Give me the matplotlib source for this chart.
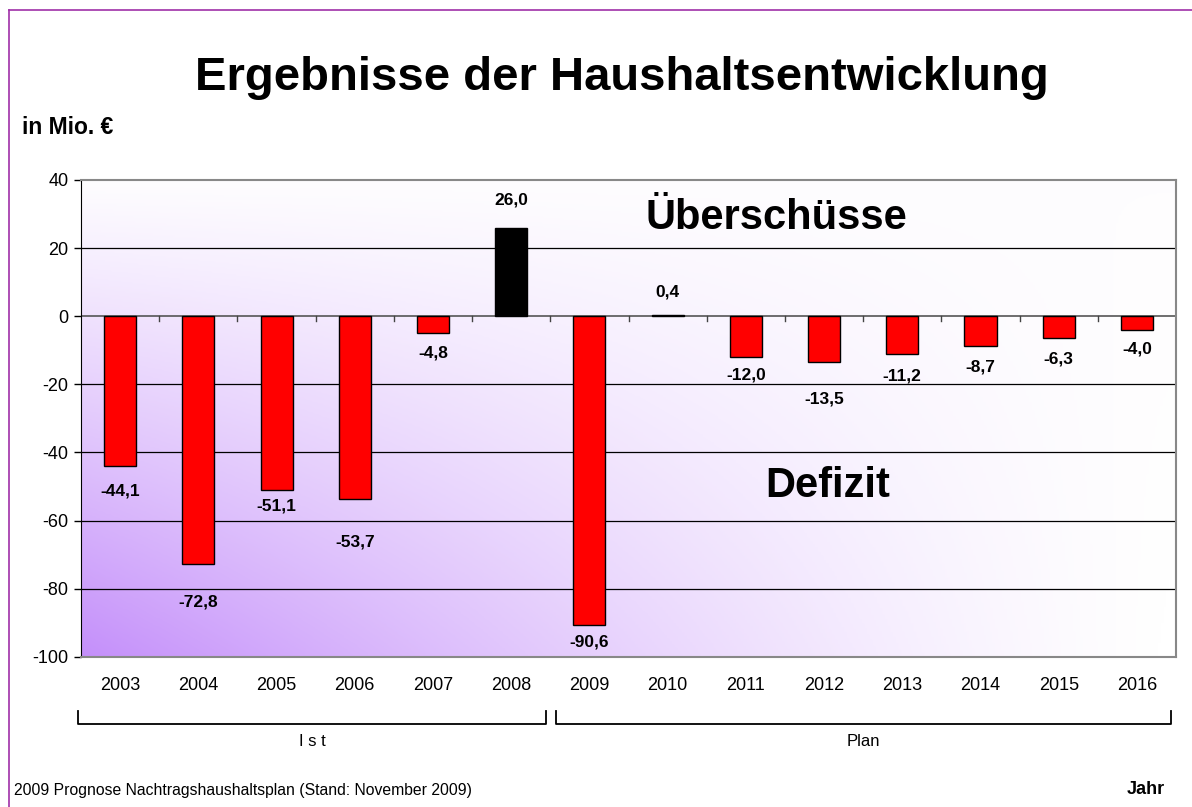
import matplotlib
matplotlib.use('Agg')
import matplotlib.pyplot as plt
import matplotlib.transforms as mtransforms
from matplotlib.colors import LinearSegmentedColormap
import numpy as np

plt.rcParams['font.family'] = ['Liberation Sans', 'DejaVu Sans']

years = ['2003', '2004', '2005', '2006', '2007', '2008', '2009',
         '2010', '2011', '2012', '2013', '2014', '2015', '2016']
values = [-44.1, -72.8, -51.1, -53.7, -4.8, 26.0, -90.6,
          0.4, -12.0, -13.5, -11.2, -8.7, -6.3, -4.0]
labels = ['-44,1', '-72,8', '-51,1', '-53,7', '-4,8', '26,0', '-90,6',
          '0,4', '-12,0', '-13,5', '-11,2', '-8,7', '-6,3', '-4,0']
groups = [('Ist', 0, 5), ('Plan', 6, 13)]

# distance of each value label from the bar end, in pixels (positive = below)
label_shift = [25, 38, 16, 43, 20, -28, 17, -23, 18, 37, 22, 21, 21, 19]
bar_colors = ['black' if v > 0 else 'red' for v in values]

fig = plt.figure(figsize=(11.92, 8.07), dpi=100)
fig.patch.set_facecolor('white')
ax = fig.add_axes([0.068, 0.186, 0.9186, 0.591])

# background gradient: purple in the lower left, fading to white up and right
u, v = np.meshgrid(np.linspace(0, 1, 400), np.linspace(0, 1, 300))
strength = np.clip((1 - v) ** 1.1 * (1 - u) ** 1.35 + 0.02 * v, 0, 1)
cmap = LinearSegmentedColormap.from_list('bg', ['#ffffff', '#c48ffa'])
ax.imshow(strength, cmap=cmap, vmin=0, vmax=1, origin='lower', extent=[0, 1, 0, 1],
          transform=ax.transAxes, aspect='auto', zorder=0, interpolation='bilinear')

x = np.arange(len(years))
ax.set_xlim(-0.5, len(years) - 0.5)
ax.set_ylim(-100, 40)

for yv in [20, -20, -40, -60, -80]:
    ax.axhline(yv, color='black', lw=0.9, zorder=1)
ax.axhline(0, color='#555555', lw=1.2, zorder=1)

ax.bar(x, values, width=0.41, color=bar_colors, edgecolor='black', lw=1.0, zorder=3)

for i in range(len(years)):
    ax.annotate(labels[i], (x[i], values[i]), xytext=(0, -label_shift[i] * 0.72),
                textcoords='offset points', ha='center', va='center',
                fontsize=12.5, fontweight='bold', zorder=4)

# category separator ticks on the zero line
for b in np.arange(0.5, len(years) - 0.5, 1.0):
    ax.plot([b, b], [0, -1.5], color='#444444', lw=1, zorder=2)

ax.set_yticks(np.arange(-100, 41, 20))
ax.set_yticklabels([str(t) for t in range(-100, 41, 20)], fontsize=13)
ax.tick_params(axis='y', length=5, width=1, color='black', pad=4)
ax.set_xticks([])

for i, yr in enumerate(years):
    ax.text(x[i], -0.06, yr, transform=ax.get_xaxis_transform(),
            ha='center', va='center', fontsize=13)

ax.spines['left'].set_color('black')
for s in ['top', 'right', 'bottom']:
    ax.spines[s].set_color('#888888')
    ax.spines[s].set_linewidth(1.5)

fig.text(645 / 1192, 1 - 218 / 807, 'Überschüsse', ha='left', va='center',
         fontsize=30, fontweight='bold')
fig.text(765 / 1192, 1 - 486 / 807, 'Defizit', ha='left', va='center',
         fontsize=30, fontweight='bold')

# group brackets below the year labels
blend = mtransforms.blended_transform_factory(ax.transData, fig.transFigure)
y_top = 1 - 711 / 807
y_bot = 1 - 724 / 807
for name, a, b in groups:
    x0 = a - 0.54 if a == 0 else a - 0.43
    x1 = b + 0.45 if b < len(years) - 1 else b + 0.43
    ax.plot([x0, x0, x1, x1], [y_top, y_bot, y_bot, y_top], color='black',
            lw=1.3, transform=blend, clip_on=False)
    ax.text((x0 + x1) / 2, 1 - 741 / 807, ' '.join(name) if name == 'Ist' else name,
            transform=blend, ha='center', va='center', fontsize=12)

fig.text(622 / 1192, 1 - 78 / 807, 'Ergebnisse der Haushaltsentwicklung', ha='center',
         va='center', fontsize=34, fontweight='bold')
fig.text(22 / 1192, 1 - 127 / 807, 'in Mio. €', ha='left', va='center',
         fontsize=16.5, fontweight='bold')
fig.text(14 / 1192, 1 - 790 / 807,
         '2009 Prognose Nachtragshaushaltsplan (Stand: November 2009)',
         ha='left', va='center', fontsize=11.3)
fig.text(1165 / 1192, 1 - 790 / 807, 'Jahr', ha='right', va='center',
         fontsize=13, fontweight='bold')

# purple frame around the slide
fig.add_artist(plt.Line2D([9 / 1192, 9 / 1192], [0, 1 - 10 / 807],
                          transform=fig.transFigure, color='#a030a8', lw=1.2))
fig.add_artist(plt.Line2D([9 / 1192, 1], [1 - 10 / 807, 1 - 10 / 807],
                          transform=fig.transFigure, color='#a030a8', lw=1.2))

fig.savefig('out.png', dpi=100)
